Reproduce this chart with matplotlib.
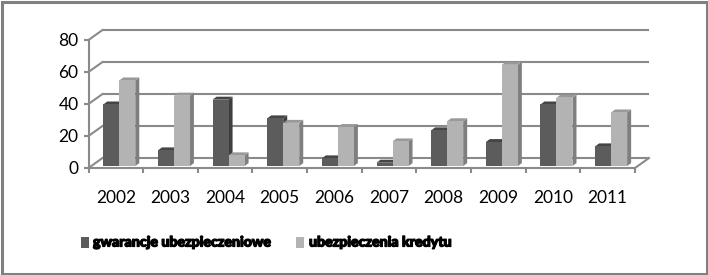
import matplotlib
matplotlib.use("Agg")
import matplotlib.pyplot as plt
import matplotlib.patheffects as pe
from matplotlib.patches import Polygon, Rectangle

years = ["2002", "2003", "2004", "2005", "2006", "2007", "2008", "2009", "2010", "2011"]
gwarancje = [38.5, 9.8, 41.5, 29.8, 4.8, 2.1, 22.3, 15.0, 38.5, 12.3]
kredyt = [53.5, 44.0, 6.7, 27.0, 24.4, 15.4, 28.0, 63.3, 42.7, 33.5]
series_names = ["gwarancje ubezpieczeniowe", "ubezpieczenia kredytu"]
yticks = [0, 20, 40, 60, 80]

W, H, DPI = 708, 275, 100
fig = plt.figure(figsize=(W / DPI, H / DPI), dpi=DPI)
fig.patch.set_facecolor("white")

# axes geometry (pixel based)
x0_px, cat_px = 88.5, 54.65
y0_px_from_bottom, unit_px = 107.0, 1.6
xmin, xmax = -0.5, 10.5
ymin, ymax = -5, 95
ax = fig.add_axes([
    (x0_px + xmin * cat_px) / W,
    (y0_px_from_bottom + ymin * unit_px) / H,
    (xmax - xmin) * cat_px / W,
    (ymax - ymin) * unit_px / H,
])
ax.set_xlim(xmin, xmax)
ax.set_ylim(ymin, ymax)
ax.set_facecolor("none")

grid_c = "#8a8a8a"
lw = 1.5
n = len(years)
DX, DY = 14 / cat_px, 10 / unit_px  # wall depth in data units

# back wall gridlines and left wall diagonals
for v in yticks:
    ax.plot([DX, n + DX], [v + DY, v + DY], color=grid_c, lw=lw, solid_capstyle="butt", zorder=1)
    ax.plot([0, DX], [v, v + DY], color=grid_c, lw=lw, zorder=1)
# floor right edge
ax.plot([n, n + DX], [0, DY], color=grid_c, lw=lw, zorder=1)

# bars with pseudo-3D faces
dark = dict(front="#5c5c5c", side="#3e3e3e", top="#454545")
light = dict(front="#b3b3b3", side="#7f7f7f", top="#999999")
bw = 0.293
sdx, sdy = 4 / cat_px, 3 / unit_px
base = 1.2
xs = list(range(n))
for vals, off, col in [(gwarancje, 0.27, dark), (kredyt, 0.563, light)]:
    lefts = [x + off for x in xs]
    ax.bar(lefts, vals, width=bw, bottom=base, align="edge", color=col["front"],
           linewidth=0, zorder=3)
    for l, v in zip(lefts, vals):
        t = base + v
        ax.add_patch(Polygon([(l + bw, base), (l + bw + sdx, base + sdy), (l + bw + sdx, t + sdy), (l + bw, t)],
                             closed=True, facecolor=col["side"], edgecolor="none", zorder=2))
        ax.add_patch(Polygon([(l, t), (l + sdx, t + sdy), (l + bw + sdx, t + sdy), (l + bw, t)],
                             closed=True, facecolor=col["top"], edgecolor="none", zorder=2.5))

# spines as front axes
for s in ["top", "right"]:
    ax.spines[s].set_visible(False)
ax.spines["left"].set_position(("data", 0))
ax.spines["left"].set_bounds(0, 80)
ax.spines["bottom"].set_position(("data", 0))
ax.spines["bottom"].set_bounds(0, n)
for s in ["left", "bottom"]:
    ax.spines[s].set_color(grid_c)
    ax.spines[s].set_linewidth(lw)
    ax.spines[s].set_zorder(4)

font = "Lato"
ax.set_yticks(yticks)
ax.set_yticklabels([str(v) for v in yticks], fontfamily=font, fontsize=12.5)
ax.tick_params(axis="y", length=3.6, width=lw, color=grid_c, pad=3.6)
ax.set_xticks([i + 0.5 for i in xs])
ax.set_xticklabels(years, fontfamily=font, fontsize=12.5)
ax.set_xticks(list(range(n + 1)), minor=True)
ax.tick_params(axis="x", which="major", length=0, pad=16)
ax.tick_params(axis="x", which="minor", length=3.6, width=lw, color=grid_c)

# legend (manual)
def px(x, y):
    return x / W, 1 - y / H

for (x_sq, x_txt), name, col in [((81, 93), series_names[0], dark["front"]),
                                  ((296, 309), series_names[1], light["front"])]:
    fx, fy = px(x_sq, 248)
    fig.add_artist(Rectangle((fx, fy), 7.5 / W, 11 / H, transform=fig.transFigure,
                             facecolor=col, edgecolor="none"))
    tx, ty = px(x_txt, 242.5)
    fig.text(tx, ty, name, fontfamily=font, fontweight="black", fontsize=10.2,
             ha="left", va="center", color="black",
             path_effects=[pe.withStroke(linewidth=0.9, foreground="black")])

# figure border
fig.add_artist(Rectangle((1.5 / W, 1.5 / H), 1 - 3 / W, 1 - 3 / H, transform=fig.transFigure,
                         facecolor="none", edgecolor="#808080", linewidth=2.2))

fig.savefig("out.png", dpi=DPI)
